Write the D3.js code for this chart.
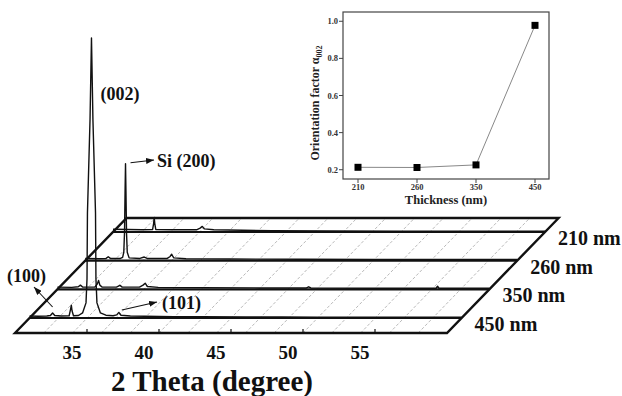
<!DOCTYPE html>
<html>
<head>
<meta charset="utf-8">
<script src="https://cdn.jsdelivr.net/npm/d3@7"></script>
<style>
  body { margin: 0; background: #fff; }
  svg { display: block; font-family: "Liberation Serif", "Times New Roman", serif; }
</style>
</head>
<body>
<svg id="chart" width="622" height="396"></svg>
<script>
// samples, front to back
const samples = ["450 nm", "350 nm", "260 nm", "210 nm"];
const thetaTicks = [35, 40, 45, 50, 55];

// XRD traces, [2theta, intensity a.u.]
const xrd450 = [
  [30, 0.7], [30.6, 0.6], [31.2, 0.7], [31.45, 0.9], [31.6, 1.8], [31.75, 0.9], [32.2, 0.7],
  [32.75, 0.8], [32.85, 3.2], [32.9, 4.6], [32.95, 2.6], [33.05, 0.8], [33.4, 0.9],
  [33.68, 1.8], [33.92, 5.4], [33.99, 14], [34.02, 37.5], [34.2, 71], [34.3, 100],
  [34.4, 71], [34.58, 37.5], [34.61, 14], [34.68, 5.4], [34.92, 1.8], [35.3, 1.0],
  [35.8, 0.8], [36.05, 1.1], [36.2, 2.0], [36.35, 1.0], [37, 0.7], [38, 0.6], [40, 0.5],
  [42, 0.5], [45, 0.4], [47.5, 0.4], [50, 0.3], [55, 0.3], [60, 0.3]
];
const xrd350 = [
  [30, 0.8], [31, 0.7], [31.45, 0.9], [31.6, 1.5], [31.75, 0.8], [32.6, 0.8], [32.78, 2.0],
  [32.86, 3.2], [32.95, 1.5], [33.1, 0.8], [34.1, 0.8], [34.35, 1.4], [34.5, 0.8],
  [35.7, 0.8], [35.95, 1.5], [36.1, 2.2], [36.25, 1.0], [37, 0.7], [40, 0.6], [44, 0.5],
  [47.3, 0.5], [47.45, 0.9], [47.6, 0.5], [52, 0.4], [56.3, 0.4], [56.4, 1.1], [56.5, 0.4], [60, 0.4]
];
const xrd260 = [
  [30, 0.8], [31, 0.7], [31.45, 0.8], [31.6, 1.4], [31.75, 0.8], [32.45, 0.8], [32.6, 1.2],
  [32.68, 3], [32.73, 10], [32.77, 25], [32.8, 34.6], [32.83, 25], [32.87, 10], [32.92, 3],
  [33.05, 1.0], [33.8, 0.8], [34.1, 1.3], [34.3, 0.8], [35.7, 0.8], [35.9, 1.5], [36.0, 2.3],
  [36.15, 1.0], [37, 0.7], [40, 0.6], [45, 0.5], [50, 0.4], [55, 0.4], [60, 0.4]
];
const xrd210 = [
  [30, 1.0], [31, 0.9], [32, 0.8], [32.75, 0.9], [32.82, 3], [32.86, 5.2], [32.9, 3],
  [32.97, 0.9], [34, 0.8], [35.8, 0.8], [36.05, 1.4], [36.2, 2.0], [36.35, 1.1], [37, 0.8],
  [39, 0.6], [41, 0.5], [45, 0.4], [50, 0.3], [55, 0.3], [60, 0.3]
];
const traces = { "450 nm": xrd450, "350 nm": xrd350, "260 nm": xrd260, "210 nm": xrd210 };

// inset: orientation factor vs thickness
const thickness = ["210", "260", "350", "450"];
const alpha002 = [0.213, 0.212, 0.226, 0.978];
const alphaTicks = [0.2, 0.4, 0.6, 0.8, 1.0];

const svg = d3.select("#chart");
const ink = "#111";

// floor geometry
const floorFront = 333, floorBack = 218, skew = 111.6;
const xFront = d3.scaleLinear().domain([30, 60]).range([15, 447]);
const depth = d3.scalePoint().domain(samples).range([318, 232]);
const yInt = d3.scaleLinear().domain([0, 100]).range([0, 280]);
const shift = y => (floorFront - y) / (floorFront - floorBack) * skew;
const px = (theta, y) => xFront(theta) + shift(y);

const floor = svg.append("g");
const [t0, t1] = xFront.domain();
const floorPath = `M${px(t0, floorFront)},${floorFront}L${px(t1, floorFront)},${floorFront}` +
                  `L${px(t1, floorBack)},${floorBack}L${px(t0, floorBack)},${floorBack}Z`;
floor.append("path").attr("d", floorPath).attr("fill", "#fff");

// dashed hatch lines running front to back
floor.selectAll(".hatch")
  .data(xFront.ticks(12).filter(t => t > t0 && t < t1))
  .enter().append("line")
  .attr("x1", t => px(t, floorFront)).attr("y1", floorFront)
  .attr("x2", t => px(t, floorBack)).attr("y2", floorBack)
  .attr("stroke", "#9a9a9a").attr("stroke-width", 0.7)
  .attr("stroke-dasharray", "3,2");

// baseline for each sample
floor.selectAll(".base")
  .data(samples)
  .enter().append("line")
  .attr("x1", s => px(t0, depth(s))).attr("y1", s => depth(s))
  .attr("x2", s => px(t1, depth(s))).attr("y2", s => depth(s))
  .attr("stroke", ink).attr("stroke-width", 2.2);

// spectra, back to front
samples.slice().reverse().forEach(s => {
  const y0 = depth(s);
  const line = d3.line()
    .x(d => px(d[0], y0))
    .y(d => y0 - yInt(d[1]));
  svg.append("path")
    .attr("d", line(traces[s]))
    .attr("fill", "none")
    .attr("stroke", ink)
    .attr("stroke-width", 1.4)
    .attr("stroke-linejoin", "round");
});

// floor outline
svg.append("path")
  .attr("d", floorPath)
  .attr("fill", "none").attr("stroke", ink).attr("stroke-width", 2.4)
  .attr("stroke-linejoin", "miter");

// front axis ticks (pointing inward) and labels
svg.selectAll(".tick")
  .data(thetaTicks)
  .enter().append("line")
  .attr("x1", t => xFront(t)).attr("x2", t => xFront(t))
  .attr("y1", floorFront).attr("y2", floorFront - 4)
  .attr("stroke", ink).attr("stroke-width", 1.2);

svg.selectAll(".tickLabel")
  .data(thetaTicks)
  .enter().append("text")
  .attr("x", t => xFront(t) - 15)
  .attr("y", 359)
  .attr("text-anchor", "middle")
  .attr("font-size", 19).attr("font-weight", "bold").attr("fill", ink)
  .text(d => d);

svg.append("text")
  .attr("x", 212).attr("y", 391)
  .attr("text-anchor", "middle")
  .attr("font-size", 29).attr("font-weight", "bold").attr("fill", ink)
  .text("2 Theta (degree)");

// sample labels at the right edge
svg.selectAll(".sampleLabel")
  .data(samples)
  .enter().append("text")
  .attr("x", s => px(t1, depth(s)) + 13)
  .attr("y", s => depth(s) + 13)
  .attr("font-size", 20).attr("font-weight", "bold").attr("fill", ink)
  .text(d => d);

// peak annotations
svg.append("defs").append("marker")
  .attr("id", "arrow")
  .attr("markerUnits", "userSpaceOnUse")
  .attr("markerWidth", 8).attr("markerHeight", 6)
  .attr("refX", 8).attr("refY", 3)
  .attr("orient", "auto")
  .append("path").attr("d", "M0,0L8,3L0,6Z").attr("fill", ink);

const y450 = depth("450 nm"), y260 = depth("260 nm");
const arrows = [
  { from: [px(32.8, y260) + 5, y260 - yInt(34.6) - 1], to: [154, 160] },
  { from: [px(31.6, y450), y450 - 11], to: [34, 287] },
  { from: [px(36.2, y450) + 3, y450 - 8], to: [157, 302] }
];
svg.selectAll(".arrow")
  .data(arrows)
  .enter().append("line")
  .attr("x1", d => d.from[0]).attr("y1", d => d.from[1])
  .attr("x2", d => d.to[0]).attr("y2", d => d.to[1])
  .attr("stroke", ink).attr("stroke-width", 1.1)
  .attr("marker-end", "url(#arrow)");

const notes = [
  { text: "(002)", x: px(34.3, y450) + 9, y: 100 },
  { text: "Si (200)", x: 157, y: 167 },
  { text: "(100)", x: 7, y: 282 },
  { text: "(101)", x: 162, y: 309 }
];
svg.selectAll(".note")
  .data(notes)
  .enter().append("text")
  .attr("x", d => d.x).attr("y", d => d.y)
  .attr("font-size", 18).attr("font-weight", "bold").attr("fill", ink)
  .text(d => d.text);

// inset chart
const inset = { left: 343, right: 549, top: 12, bottom: 179 };
const xIn = d3.scalePoint().domain(thickness).range([358, 535]);
const yIn = d3.scaleLinear().domain([0.15, 1.05]).range([inset.bottom, inset.top]);
const g = svg.append("g");

g.append("rect")
  .attr("x", inset.left).attr("y", inset.top)
  .attr("width", inset.right - inset.left).attr("height", inset.bottom - inset.top)
  .attr("fill", "#fff").attr("stroke", "#444").attr("stroke-width", 1.2);

g.selectAll(".yt")
  .data(alphaTicks)
  .enter().append("line")
  .attr("x1", inset.left - 4).attr("x2", inset.left)
  .attr("y1", d => yIn(d)).attr("y2", d => yIn(d))
  .attr("stroke", "#444");
g.selectAll(".ytl")
  .data(alphaTicks)
  .enter().append("text")
  .attr("x", inset.left - 5).attr("y", d => yIn(d) + 3)
  .attr("text-anchor", "end")
  .attr("font-size", 8.5).attr("font-weight", "bold").attr("fill", "#333")
  .text(d3.format(".1f"));

g.selectAll(".xt")
  .data(thickness)
  .enter().append("line")
  .attr("x1", d => xIn(d)).attr("x2", d => xIn(d))
  .attr("y1", inset.bottom).attr("y2", inset.bottom + 4)
  .attr("stroke", "#444");
g.selectAll(".xtl")
  .data(thickness)
  .enter().append("text")
  .attr("x", d => xIn(d)).attr("y", 190)
  .attr("text-anchor", "middle")
  .attr("font-size", 8.5).attr("font-weight", "bold").attr("fill", "#333")
  .text(d => d);

g.append("text")
  .attr("x", (inset.left + inset.right) / 2).attr("y", 204)
  .attr("text-anchor", "middle")
  .attr("font-size", 12.5).attr("font-weight", "bold").attr("fill", "#222")
  .text("Thickness (nm)");

const yTitle = g.append("text")
  .attr("transform", `translate(319,103) rotate(-90)`)
  .attr("text-anchor", "middle")
  .attr("font-size", 12).attr("font-weight", "bold").attr("fill", "#222");
yTitle.append("tspan").text("Orientation factor α");
yTitle.append("tspan").attr("font-size", 8).attr("dy", 3).text("002");

const pts = thickness.map((t, i) => [t, alpha002[i]]);
g.append("path")
  .attr("d", d3.line().x(d => xIn(d[0])).y(d => yIn(d[1]))(pts))
  .attr("fill", "none").attr("stroke", "#888").attr("stroke-width", 1);
g.selectAll(".pt")
  .data(pts)
  .enter().append("rect")
  .attr("x", d => xIn(d[0]) - 3.5).attr("y", d => yIn(d[1]) - 3.5)
  .attr("width", 7).attr("height", 7)
  .attr("fill", "#000");
</script>
</body>
</html>
